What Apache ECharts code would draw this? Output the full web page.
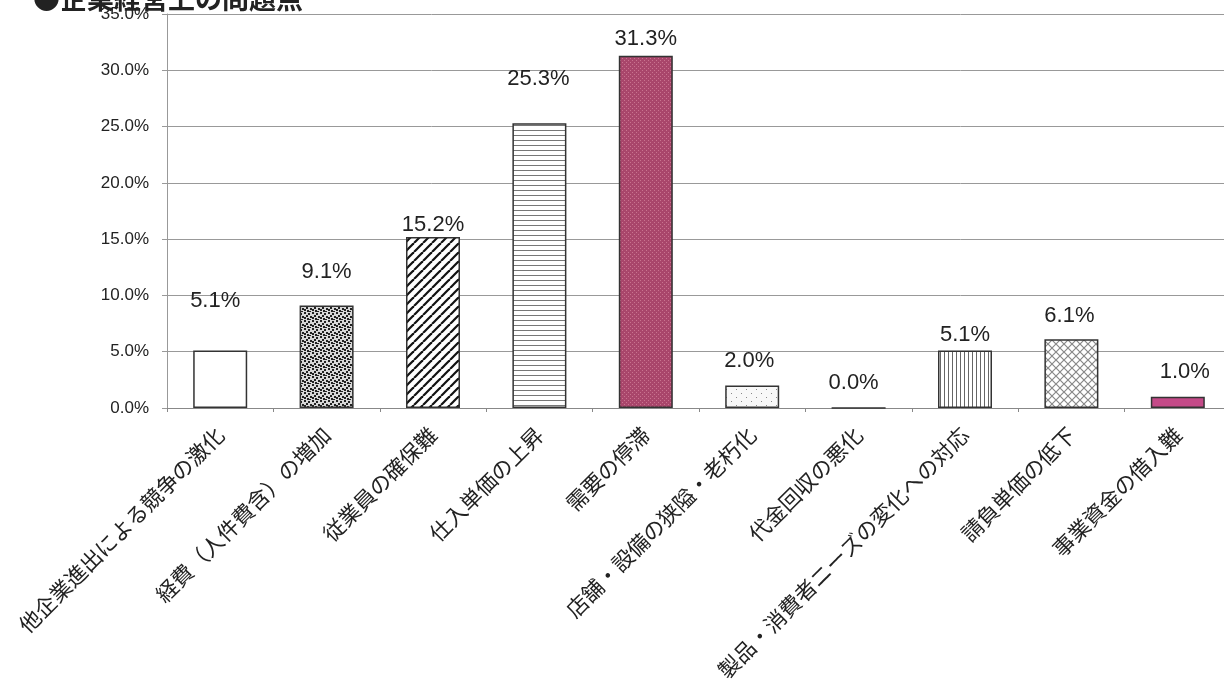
<!DOCTYPE html>
<html>
<head>
<meta charset="utf-8">
<script src="https://cdn.jsdelivr.net/npm/echarts@6/dist/echarts.min.js"></script>
<style>
html,body{margin:0;padding:0;background:#fff;}
#c{width:1224px;height:692px;}
</style>
</head>
<body>
<div id="c"></div>
<script>
const categories = ["他企業進出による競争の激化","経費（人件費含）の増加","従業員の確保難","仕入単価の上昇","需要の停滞","店舗・設備の狭隘・老朽化","代金回収の悪化","製品・消費者ニーズの変化への対応","請負単価の低下","事業資金の借入難"];
const values = [5.1, 9.1, 15.2, 25.3, 31.3, 2.0, 0.0, 5.1, 6.1, 1.0];
const yTicks = [0, 5, 10, 15, 20, 25, 30, 35];
const titleText = "●企業経営上の問題点";
// label nudges (style only)
const labelShift = [[-5,-34],[0,-18],[0,4],[-1,-28],[0,-1],[-3,-9],[-5,-8],[0,0],[-2,-7],[7,-9]];

function makePattern(w, h, draw) {
  const c = document.createElement('canvas');
  c.width = w; c.height = h;
  const g = c.getContext('2d');
  draw(g, w, h);
  return { image: c, repeat: 'repeat' };
}
const patterns = [
  '#ffffff',
  makePattern(8, 8, (g) => {
    g.fillStyle = '#d8d8d8'; g.fillRect(0,0,8,8);
    g.fillStyle = '#222';
    [[0,0,2,2],[4,1,2,2],[2,3,2,2],[6,4,2,2],[0,5,2,2],[3,6,2,2],[5,7,2,1]].forEach(r=>g.fillRect(...r));
  }),
  makePattern(9, 9, (g) => {
    g.fillStyle = '#fff'; g.fillRect(0,0,9,9);
    g.strokeStyle = '#111'; g.lineWidth = 2.2;
    for (let k = -9; k <= 18; k += 9) { g.beginPath(); g.moveTo(k, 9); g.lineTo(k + 9, 0); g.stroke(); }
  }),
  makePattern(4, 5, (g) => {
    g.fillStyle = '#fff'; g.fillRect(0,0,4,5);
    g.fillStyle = '#777'; g.fillRect(0,0,4,1);
  }),
  makePattern(4, 4, (g) => {
    g.fillStyle = '#a9466b'; g.fillRect(0,0,4,4);
    g.fillStyle = '#c9738f'; g.fillRect(0,0,1,1); g.fillRect(2,2,1,1);
  }),
  makePattern(10, 8, (g) => {
    g.fillStyle = '#f8f8f8'; g.fillRect(0,0,10,8);
    g.fillStyle = '#888'; g.fillRect(1,1,1,1); g.fillRect(6,5,1,1);
  }),
  '#ffffff',
  makePattern(4, 4, (g) => {
    g.fillStyle = '#fff'; g.fillRect(0,0,4,4);
    g.fillStyle = '#666'; g.fillRect(0,0,1,4);
  }),
  makePattern(8, 8, (g) => {
    g.fillStyle = '#fff'; g.fillRect(0,0,8,8);
    g.strokeStyle = '#888'; g.lineWidth = 1.2;
    g.beginPath(); g.moveTo(0,0); g.lineTo(8,8); g.moveTo(8,0); g.lineTo(0,8); g.stroke();
  }),
  '#c44a88'
];

const data = values.map((v, i) => ({
  value: v,
  itemStyle: { color: patterns[i] },
  label: { offset: labelShift[i] }
}));

const chart = echarts.init(document.getElementById('c'), null, { renderer: 'canvas' });
chart.setOption({
  animation: false,
  backgroundColor: '#ffffff',
  graphic: [{
    type: 'text', left: 33, top: -15,
    style: { text: titleText, fontSize: 27, fontWeight: 'bold', fill: '#222', fontFamily: 'Noto Sans CJK JP' }
  }],
  grid: { left: 167, width: 1064, top: 14, bottom: 284, containLabel: false, outerBoundsMode: 'none' },
  xAxis: {
    type: 'category',
    data: categories,
    axisLine: { show: true, lineStyle: { color: '#888', width: 1 } },
    axisTick: { show: true, alignWithLabel: false, length: 4, lineStyle: { color: '#888' } },
    axisLabel: { rotate: 45, interval: 0, fontSize: 21.5, color: '#222', margin: 23, fontFamily: 'Noto Sans CJK JP' }
  },
  yAxis: {
    type: 'value',
    min: yTicks[0], max: yTicks[yTicks.length - 1], interval: 5,
    axisLine: { show: true, lineStyle: { color: '#999', width: 1 } },
    axisTick: { show: true, length: 5, inside: false, lineStyle: { color: '#999' } },
    splitLine: { show: true, lineStyle: { color: '#999', width: 1 } },
    axisLabel: { fontSize: 17, color: '#222', margin: 18, fontFamily: 'Liberation Sans', formatter: (v) => v.toFixed(1) + '%' }
  },
  series: [{
    type: 'bar',
    data: data,
    barWidth: 54,
    itemStyle: { borderColor: '#333', borderWidth: 1.5 },
    label: {
      show: true, position: 'top', distance: 5,
      fontSize: 22, color: '#222', fontFamily: 'Liberation Sans',
      formatter: (p) => p.value.toFixed(1) + '%'
    }
  }]
});
</script>
</body>
</html>
